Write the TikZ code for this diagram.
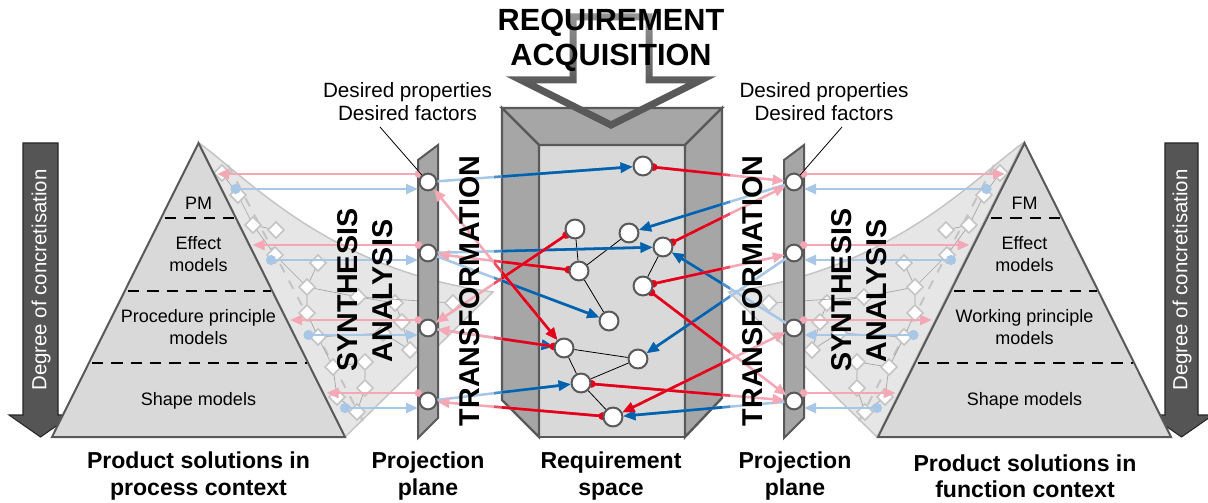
\documentclass[tikz,border=0pt]{standalone}
\usepackage{fontspec}
\setmainfont{Liberation Sans}
\usetikzlibrary{arrows.meta}

\definecolor{edgegray}{HTML}{595959}
\definecolor{pyrfill}{HTML}{D9D9D9}
\definecolor{planefill}{HTML}{A6A6A6}
\definecolor{fanfill}{HTML}{E6E6E6}
\definecolor{fanline}{HTML}{C4C4C4}
\definecolor{twiggray}{HTML}{A3A3A3}
\definecolor{redD}{HTML}{E2001A}
\definecolor{redL}{HTML}{F4A8B5}
\definecolor{blueD}{HTML}{0062AD}
\definecolor{blueL}{HTML}{A8C7E7}
\definecolor{degfill}{HTML}{555555}
\definecolor{acqlight}{HTML}{C6C6C6}

\pgfdeclarelayer{bg}
\pgfdeclarelayer{mid}
\pgfdeclarelayer{front}
\pgfsetlayers{bg,mid,main,front}

\pgfdeclareverticalshading{acqshade}{100bp}{color(0bp)=(edgegray); color(44bp)=(edgegray); color(100bp)=(acqlight)}

\newcommand\txtpyr{\fontsize{13.5}{16.5}\selectfont}
\newcommand\txtdes{\fontsize{15.5}{17.3}\selectfont}
\newcommand\txtlab{\fontsize{17.3}{19.6}\selectfont\bfseries}
\newcommand\txtbig{\fontsize{21.5}{24}\selectfont\bfseries}
\newcommand\txtacq{\fontsize{23}{26.3}\selectfont\bfseries}
\newcommand\txtdeg{\fontsize{15.3}{18}\selectfont}

% grey cone between a pyramid and its projection plane, with its net of model elements
\newcommand\fanweb[1]{%
  \path[fan] (199,143) .. controls (250,180) and (330,270) .. (493,292) -- (345,437) -- cycle;
  \draw[fandash] (228,165) -- (365,425);
  \foreach \n/\x/\y in {1/222/173,2/238/195,3/253/225,4/276/230,5/275/255,6/318/263,
      7/307/287,8/307/313,9/318/337,10/358/297,11/395/303,12/402/322,13/410/350,
      14/333/367,15/365/362,16/365/388,17/337/397,18/357/412,19/453/303,20/383/333}
    {\node[dmd] (#1\n) at (\x,\y) {};}
  \foreach \p/\q in {1/2,2/3,3/4,3/5,5/7,6/7,7/8,8/9,7/10,10/11,11/12,12/13,9/14,
      14/15,15/16,14/17,17/18,16/18,10/19,9/20,20/13}
    {\draw[twig] (#1\p) -- (#1\q);}%
}

% connector that is pale outside the requirement space and saturated inside it
\newcommand\duo[4]{%
  \draw[#1,draw=#2] #4;
  \begin{scope}
    \clip (494,95) rectangle (730,450);
    \draw[#1,draw=#3!55!#2] #4;
  \end{scope}
  \begin{scope}
    \clip (502,95) rectangle (722,450);
    \draw[#1,draw=#3] #4;
  \end{scope}}

\begin{document}
\begin{tikzpicture}[x=0.75pt,y=-0.75pt,
  pyr/.style={fill=pyrfill,draw=edgegray,line width=1.5pt,line join=miter},
  planestyle/.style={fill=planefill,draw=edgegray,line width=1.5pt,line join=miter},
  bevel/.style={fill=planefill,draw=edgegray,line width=1.8pt,line join=miter},
  innerface/.style={fill=pyrfill,draw=edgegray,line width=1.8pt},
  fan/.style={fill=fanfill,draw=fanline,line width=1.1pt},
  fandash/.style={draw=fanline,line width=1.5pt,dash pattern=on 7pt off 7pt},
  layerline/.style={draw=black,line width=1.4pt,dash pattern=on 8.5pt off 6pt},
  dmd/.style={rectangle,draw=fanline,fill=white,line width=1.2pt,minimum size=8.5pt,inner sep=0pt,rotate=45},
  twig/.style={draw=twiggray,line width=0.5pt},
  pcirc/.style={circle,draw=edgegray,fill=white,line width=1.5pt,minimum size=12.6pt,inner sep=0pt},
  scirc/.style={circle,draw=edgegray,fill=white,line width=1.5pt,minimum size=14.2pt,inner sep=0pt},
  tree/.style={draw=black,line width=0.6pt},
  conn/.style={line width=1.9pt},
  rl/.style={conn,{Circle[length=5.5pt]}-{Triangle[length=9pt,width=7.5pt]},shorten <=-2.6pt},
  rb/.style={conn,{Triangle[length=9pt,width=7.5pt]}-{Triangle[length=9pt,width=7.5pt]}},
  bl/.style={conn,-{Triangle[length=9pt,width=7.5pt]}},
  sidepink/.style={conn,draw=redL,{Circle[length=5.5pt]}-{Triangle[length=9pt,width=7.5pt]}},
  sideblue/.style={conn,draw=blueL,{Circle[length=7.5pt]}-{Triangle[length=9pt,width=7.5pt]}},
  leader/.style={draw=black,line width=0.6pt},
  degarrow/.style={fill=degfill,draw=black!85,line width=0.8pt,line join=miter},
  ptext/.style={font=\txtpyr,align=center,inner sep=0pt},
  dtext/.style={font=\txtdes,align=center,inner sep=0pt},
  ltext/.style={font=\txtlab,align=center,inner sep=0pt},
  vtext/.style={font=\txtbig,rotate=90,inner sep=0pt},
  degtext/.style={font=\txtdeg,text=white,rotate=90,inner sep=0pt}
]
\useasboundingbox (0,0) rectangle (1208,503);

\begin{pgfonlayer}{bg}
  \fill[white] (0,0) rectangle (1208,503);
  % cones of model elements
  \fanweb{lf}
  \begin{scope}[xshift=916.5pt,xscale=-1]
    \fanweb{rf}
  \end{scope}
  % degree of concretisation arrows
  \path[degarrow] (23,143) -- (58,143) -- (58,415) -- (72,415) -- (40.5,437) -- (9,415) -- (23,415) -- cycle;
  \path[degarrow] (1165,143) -- (1198,143) -- (1198,415) -- (1213,415) -- (1181.5,437) -- (1150,415) -- (1165,415) -- cycle;
  % model pyramids
  \path[pyr] (52,437) -- (198.5,143) -- (345,437) -- cycle;
  \path[pyr] (878,437) -- (1024.5,143) -- (1171,437) -- cycle;
  \foreach \dx in {0,826}{
    \draw[layerline] (165+\dx,218) -- (234+\dx,218);
    \draw[layerline] (128+\dx,291) -- (271+\dx,291);
    \draw[layerline] (92+\dx,363) -- (307+\dx,363);
  }
  % projection planes
  \path[planestyle] (418,160) -- (438,145) -- (438,418) -- (418,438) -- cycle;
  \path[planestyle] (784,160) -- (804,145) -- (804,418) -- (784,438) -- cycle;
  % requirement space
  \path[innerface] (539,145) rectangle (685,437);
  \path[bevel] (502,108) -- (722,108) -- (685,145) -- (539,145) -- cycle;
  \path[bevel] (502,108) -- (539,145) -- (539,437) -- (502,400) -- cycle;
  \path[bevel] (722,108) -- (722,398) -- (685,437) -- (685,145) -- cycle;
\end{pgfonlayer}

% points on the projection planes
\foreach \k/\yy in {1/182,2/253,3/328,4/401}{
  \node[pcirc] (L\k) at (428,\yy) {};
  \node[pcirc] (R\k) at (794,\yy) {};
}
% requirements inside the requirement space
\node[scirc] (N0) at (643,166) {};
\node[scirc] (a) at (575,229) {};
\node[scirc] (b) at (629,233) {};
\node[scirc] (c) at (663,247) {};
\node[scirc] (d) at (579,271) {};
\node[scirc] (e) at (643,286) {};
\node[scirc] (f) at (609,321) {};
\node[scirc] (g) at (564,348) {};
\node[scirc] (h) at (638,359) {};
\node[scirc] (i) at (581,383) {};
\node[scirc] (j) at (613,417) {};

% requirement acquisition arrow
\shade[shading=acqshade,even odd rule]
  (569.5,13.5) -- (652.5,13.5) -- (652.5,76.5) -- (715.8,76.5) -- (611,128.9) -- (506.2,76.5) -- (569.5,76.5) -- cycle
  (576.5,20.5) -- (645.5,20.5) -- (645.5,83.5) -- (686.2,83.5) -- (611,121.1) -- (535.8,83.5) -- (576.5,83.5) -- cycle;

\begin{pgfonlayer}{mid}
  % links between requirements
  \draw[tree] (a) -- (d) (d) -- (b) (d) -- (f) (c) -- (e)
              (g) -- (h) (g) -- (i) (i) -- (h) (i) -- (j);
  % transformation links
  \duo{bl}{blueL}{blueD}{(L1) -- (N0)}
  \duo{bl}{blueL}{blueD}{(L2) -- (c)}
  \duo{bl}{blueL}{blueD}{(L2) -- (f)}
  \duo{bl}{blueL}{blueD}{(L3) -- (g)}
  \duo{bl}{blueL}{blueD}{(L4) -- (i)}
  \duo{bl}{blueL}{blueD}{(R1) -- (b)}
  \duo{bl}{blueL}{blueD}{(R2) -- (h)}
  \duo{bl}{blueL}{blueD}{(R3) -- (c)}
  \duo{bl}{blueL}{blueD}{(R4) -- (j)}
  \duo{rl}{redL}{redD}{(N0) -- (R1)}
  \duo{rl}{redL}{redD}{(c) -- (R1)}
  \duo{rl}{redL}{redD}{(e) -- (R2)}
  \duo{rl}{redL}{redD}{(e) -- (R4)}
  \duo{rl}{redL}{redD}{(i) -- (R4)}
  \duo{rl}{redL}{redD}{(d) -- (L2)}
  \duo{rl}{redL}{redD}{(a) -- (L3)}
  \duo{rl}{redL}{redD}{(j) -- (L4)}
  \duo{rl}{redL}{redD}{(g) -- (L3)}
  \duo{rb}{redL}{redD}{(g) -- (L1)}
  \duo{rb}{redL}{redD}{(j) -- (R3)}
  % synthesis and analysis links
  \foreach \k/\yc in {1/182,2/253,3/328,4/401}{
    \pgfmathsetmacro\yp{\yc-8}
    \pgfmathsetmacro\yb{\yc+7}
    \pgfmathsetmacro\xp{198.5+(\yp-143)/2+3}
    \pgfmathsetmacro\xb{198.5+(\yb-143)/2+9}
    \pgfmathsetmacro\xpr{1222-\xp}
    \pgfmathsetmacro\xbr{1222-\xb}
    \coordinate (lpa\k) at (422,\yp);
    \coordinate (lpb\k) at (\xp,\yp);
    \coordinate (lba\k) at (\xb,\yb);
    \coordinate (lbb\k) at (418,\yb);
    \coordinate (rpa\k) at (800,\yp);
    \coordinate (rpb\k) at (\xpr,\yp);
    \coordinate (rba\k) at (\xbr,\yb);
    \coordinate (rbb\k) at (804,\yb);
    \draw[sidepink] (lpa\k) -- (lpb\k);
    \draw[sideblue] (lba\k) -- (lbb\k);
    \draw[sidepink] (rpa\k) -- (rpb\k);
    \draw[sideblue] (rba\k) -- (rbb\k);
  }
  % callouts
  \coordinate (dl) at (380,127);
  \coordinate (dr) at (842,127);
  \draw[leader] (dl) -- (L1);
  \draw[leader] (dr) -- (R1);
\end{pgfonlayer}

\begin{pgfonlayer}{front}
  \node[font=\txtacq,align=center,inner sep=0pt] (acq) at (611,40) {REQUIREMENT\\ACQUISITION};
  \node[dtext] (desl) at (407.5,102) {Desired properties\\Desired factors};
  \node[dtext] (desr) at (824,102) {Desired properties\\Desired factors};
  \node[degtext] (degl) at (41,280) {Degree of concretisation};
  \node[degtext] (degr) at (1182,280) {Degree of concretisation};
  \node[ptext] (pm) at (198.5,203) {PM};
  \node[ptext] (efl) at (198.5,254) {Effect\\models};
  \node[ptext] (ppm) at (198.5,327) {Procedure principle\\models};
  \node[ptext] (shl) at (198.5,401) {Shape models};
  \node[ptext] (fm) at (1024.5,203) {FM};
  \node[ptext] (efr) at (1024.5,254) {Effect\\models};
  \node[ptext] (wpm) at (1024.5,327) {Working principle\\models};
  \node[ptext] (shr) at (1024.5,401) {Shape models};
  \node[vtext] (synl) at (348,290) {SYNTHESIS};
  \node[vtext] (anal) at (383,291) {ANALYSIS};
  \node[vtext] (trl) at (470,291) {TRANSFORMATION};
  \node[vtext] (trr) at (753,291) {TRANSFORMATION};
  \node[vtext] (synr) at (842,290) {SYNTHESIS};
  \node[vtext] (anar) at (877,291) {ANALYSIS};
  \node[ltext] (lab1) at (198.5,476) {Product solutions in\\process context};
  \node[ltext] (lab2) at (428,476) {Projection\\plane};
  \node[ltext] (lab3) at (611,476) {Requirement\\space};
  \node[ltext] (lab4) at (795,476) {Projection\\plane};
  \node[ltext] (lab5) at (1025,476) {Product solutions in\\function context};
\end{pgfonlayer}
\end{tikzpicture}
\end{document}
